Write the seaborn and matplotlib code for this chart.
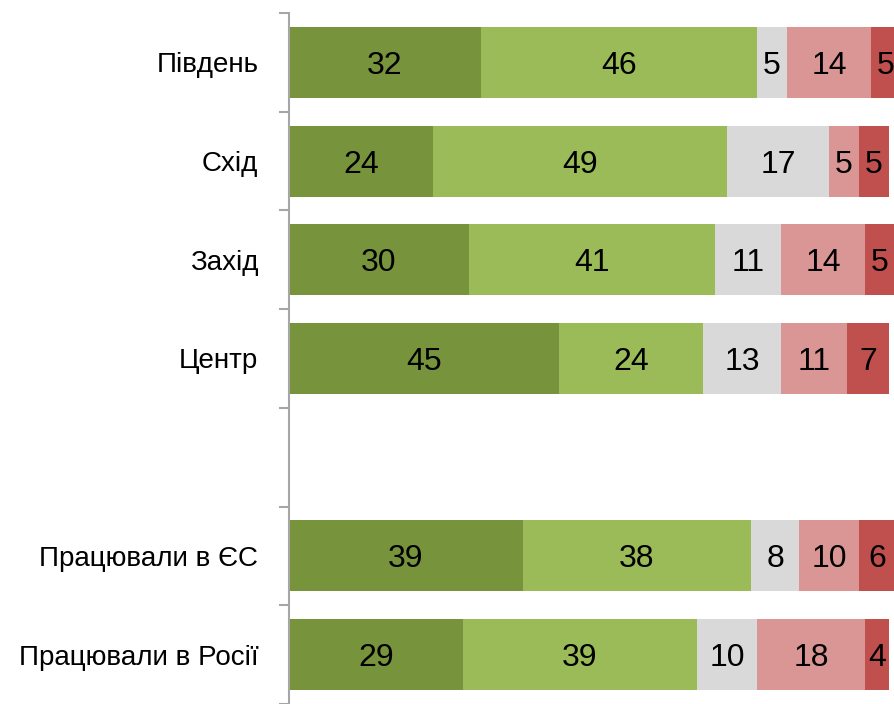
import numpy as np
import pandas as pd
import seaborn as sns
import matplotlib.pyplot as plt

regions = ["Південь", "Схід", "Захід", "Центр", "Працювали в ЄС", "Працювали в Росії"]
very_good = [32, 24, 30, 45, 39, 29]
rather_good = [46, 49, 41, 24, 38, 39]
hard_to_say = [5, 17, 11, 13, 8, 10]
rather_bad = [14, 5, 14, 11, 10, 18]
very_bad = [5, 5, 5, 7, 6, 4]

series = ["very_good", "rather_good", "hard_to_say", "rather_bad", "very_bad"]
colors = ["#77933C", "#9BBB59", "#D9D9D9", "#DA9694", "#C0504D"]

# empty slot between the regions and the migrant groups
order = regions[:4] + [" "] + regions[4:]

df = pd.DataFrame({
    "region": regions,
    "very_good": very_good,
    "rather_good": rather_good,
    "hard_to_say": hard_to_say,
    "rather_bad": rather_bad,
    "very_bad": very_bad,
})
cum = df[series].cumsum(axis=1)
cum["region"] = df["region"]

sns.set_style("white")
plt.rcParams["font.family"] = ["Liberation Sans", "DejaVu Sans"]

fig = plt.figure(figsize=(8.95, 7.04), dpi=100)
ax = fig.add_axes([289 / 895, 0, 1 - 289 / 895, 1 - 13 / 704])

# stacked bars: draw cumulative totals from widest to narrowest
for col, color in reversed(list(zip(series, colors))):
    sns.barplot(data=cum, x=col, y="region", order=order, color=color,
                saturation=1, width=0.72, orient="h", errorbar=None,
                linewidth=0, ax=ax)

for _, row in df.iterrows():
    y = order.index(row["region"])
    left = 0
    for col in series:
        val = row[col]
        ax.text(left + val / 2, y, str(val), ha="center", va="center_baseline",
                fontsize=23, color="black")
        left += val

ax.set_xlim(0, 101)
ax.set_ylim(6.48, -0.5)
ax.set_xlabel("")
ax.set_ylabel("")
ax.set_xticks([])

ax.set_yticks(range(len(order)))
ax.set_yticklabels(order, fontsize=20, color="black")
ax.set_yticks(np.arange(-0.5, len(order), 1), minor=True)
ax.tick_params(axis="y", which="major", length=0, pad=22)
ax.tick_params(axis="y", which="minor", length=7.5, width=1.5, color="#A6A6A6", direction="out", left=True)

for side in ["top", "right", "bottom"]:
    ax.spines[side].set_visible(False)
ax.spines["left"].set_color("#A6A6A6")
ax.spines["left"].set_linewidth(1.5)

fig.savefig("out.png", dpi=100)
